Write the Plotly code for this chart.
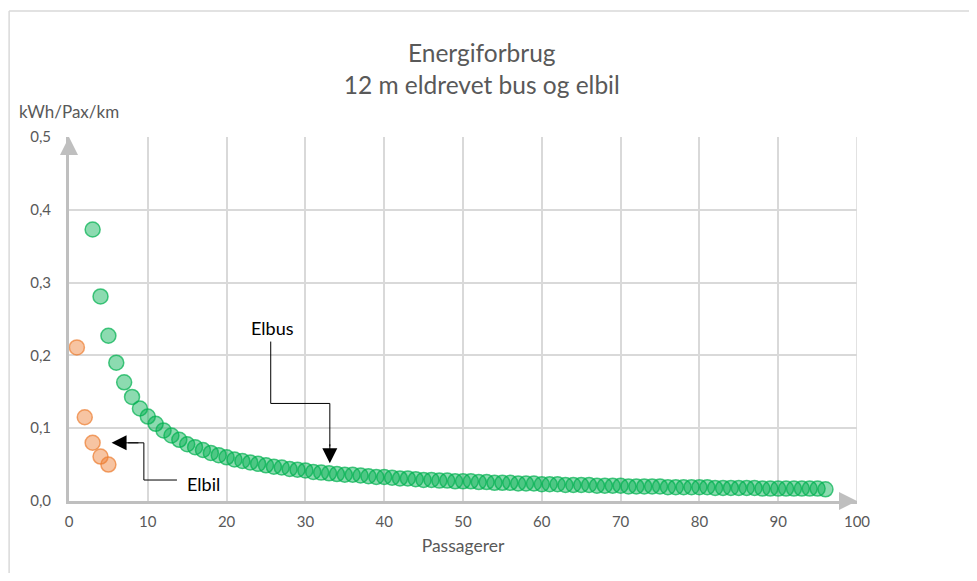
import plotly.graph_objects as go

# Passagerer (x) and kWh/Pax/km (y)
elbil_x = [1, 2, 3, 4, 5]
elbil_y = [0.211, 0.115, 0.080, 0.061, 0.050]

elbus_x = list(range(3, 97))
elbus_y = [
    0.373, 0.281, 0.227, 0.190, 0.163, 0.143, 0.127, 0.116, 0.106, 0.097,  # 3-12
    0.090, 0.084, 0.078, 0.074, 0.070, 0.066, 0.063, 0.060, 0.057, 0.055,  # 13-22
    0.053, 0.051, 0.049, 0.047, 0.046, 0.044, 0.043, 0.042, 0.040, 0.039,  # 23-32
    0.038, 0.037, 0.036, 0.036, 0.035, 0.034, 0.033, 0.033, 0.032, 0.031,  # 33-42
    0.031, 0.030, 0.029, 0.029, 0.028, 0.028, 0.027, 0.027, 0.027, 0.026,  # 43-52
    0.026, 0.025, 0.025, 0.025, 0.024, 0.024, 0.024, 0.023, 0.023, 0.023,  # 53-62
    0.022, 0.022, 0.022, 0.022, 0.021, 0.021, 0.021, 0.021, 0.020, 0.020,  # 63-72
    0.020, 0.020, 0.020, 0.019, 0.019, 0.019, 0.019, 0.019, 0.019, 0.018,  # 73-82
    0.018, 0.018, 0.018, 0.018, 0.018, 0.017, 0.017, 0.017, 0.017, 0.017,  # 83-92
    0.017, 0.017, 0.017, 0.016,                                            # 93-96
]

x_ticks = [0, 10, 20, 30, 40, 50, 60, 70, 80, 90, 100]
y_ticks = [0, 0.1, 0.2, 0.3, 0.4, 0.5]
y_tick_labels = ["0,0", "0,1", "0,2", "0,3", "0,4", "0,5"]

FONT = "Lato"
GREY = "#595959"

fig = go.Figure()

fig.add_trace(go.Scatter(
    x=elbus_x, y=elbus_y, mode="markers", name="Elbus",
    marker=dict(size=15, color="rgba(0,176,80,0.45)",
                line=dict(color="rgba(0,176,80,0.7)", width=1.5)),
))
fig.add_trace(go.Scatter(
    x=elbil_x, y=elbil_y, mode="markers", name="Elbil",
    marker=dict(size=15, color="rgba(237,125,49,0.45)",
                line=dict(color="rgba(237,125,49,0.7)", width=1.5)),
))

# page body has an 8px margin, so the figure is sized/shifted to fit
fig.update_layout(
    width=961, height=565,
    margin=dict(l=61, r=112, t=129, b=72),
    paper_bgcolor="white", plot_bgcolor="white",
    showlegend=False,
    font=dict(family=FONT, color=GREY, size=15),
    title=dict(text="Energiforbrug<br>12 m eldrevet bus og elbil",
               x=0.493, xanchor="center", y=0.904, yanchor="top",
               font=dict(size=24.5, color=GREY, family=FONT)),
    xaxis=dict(range=[0, 100], tickvals=x_ticks, showgrid=True,
               gridcolor="#d9d9d9", gridwidth=1.5, zeroline=False,
               showline=True, linecolor="#bfbfbf", linewidth=3,
               ticks="", ticklabelstandoff=5,
               tickfont=dict(size=15, color=GREY),
               title=dict(text="Passagerer", standoff=11,
                          font=dict(size=17.5, color=GREY))),
    yaxis=dict(range=[0, 0.5], tickvals=y_ticks, ticktext=y_tick_labels,
               showgrid=True, gridcolor="#d9d9d9", gridwidth=1.5,
               zeroline=False, showline=True, linecolor="#bfbfbf",
               linewidth=3, ticks="", ticklabelstandoff=12,
               tickfont=dict(size=15, color=GREY)),
)

# right-hand gridline at 100
fig.add_shape(type="line", xref="x", yref="paper", x0=100, x1=100, y0=0, y1=1,
              line=dict(color="#d9d9d9", width=1.5), layer="below")

# chart area border (top and left are visible)
fig.add_shape(type="line", xref="paper", yref="paper", x0=-0.076, x1=1.2,
              y0=1.346, y1=1.346, line=dict(color="#d9d9d9", width=1.5))
fig.add_shape(type="line", xref="paper", yref="paper", x0=-0.076, x1=-0.076,
              y0=-0.3, y1=1.346, line=dict(color="#d9d9d9", width=1.5))

# axis arrow heads
fig.add_annotation(xref="paper", yref="paper", x=0, y=1.0, ax=0, ay=14,
                   text="", showarrow=True, arrowhead=2, arrowsize=1.2,
                   arrowwidth=3, arrowcolor="#bfbfbf")
fig.add_annotation(xref="paper", yref="paper", x=1.0, y=0, ax=-14, ay=0,
                   text="", showarrow=True, arrowhead=2, arrowsize=1.2,
                   arrowwidth=3, arrowcolor="#bfbfbf")

# y axis unit label
fig.add_annotation(xref="paper", yref="paper", x=-0.066, y=1.071,
                   xanchor="left", yanchor="middle", showarrow=False,
                   text="kWh/Pax/km", font=dict(size=17, color=GREY))

# callouts
fig.add_annotation(x=25.8, y=0.238, text="Elbus", showarrow=False,
                   font=dict(size=18, color="black"))
fig.add_shape(type="path", xref="x", yref="y",
              path="M 25.6 0.219 L 25.6 0.134 L 33.1 0.134 L 33.1 0.075",
              line=dict(color="black", width=1))
fig.add_annotation(x=33.1, y=0.052, ax=33.1, ay=0.08, axref="x", ayref="y",
                   text="", showarrow=True, arrowhead=2, arrowsize=3,
                   arrowwidth=1, arrowcolor="black")

fig.add_annotation(x=17.1, y=0.023, text="Elbil", showarrow=False,
                   font=dict(size=18, color="black"))
fig.add_shape(type="path", xref="x", yref="y",
              path="M 13.7 0.0288 L 9.5 0.0288 L 9.5 0.0799 L 7.5 0.0799",
              line=dict(color="black", width=1))
fig.add_annotation(x=5.4, y=0.0799, ax=9.0, ay=0.0799, axref="x", ayref="y",
                   text="", showarrow=True, arrowhead=2, arrowsize=3,
                   arrowwidth=1, arrowcolor="black")

fig.write_html("out.html")
